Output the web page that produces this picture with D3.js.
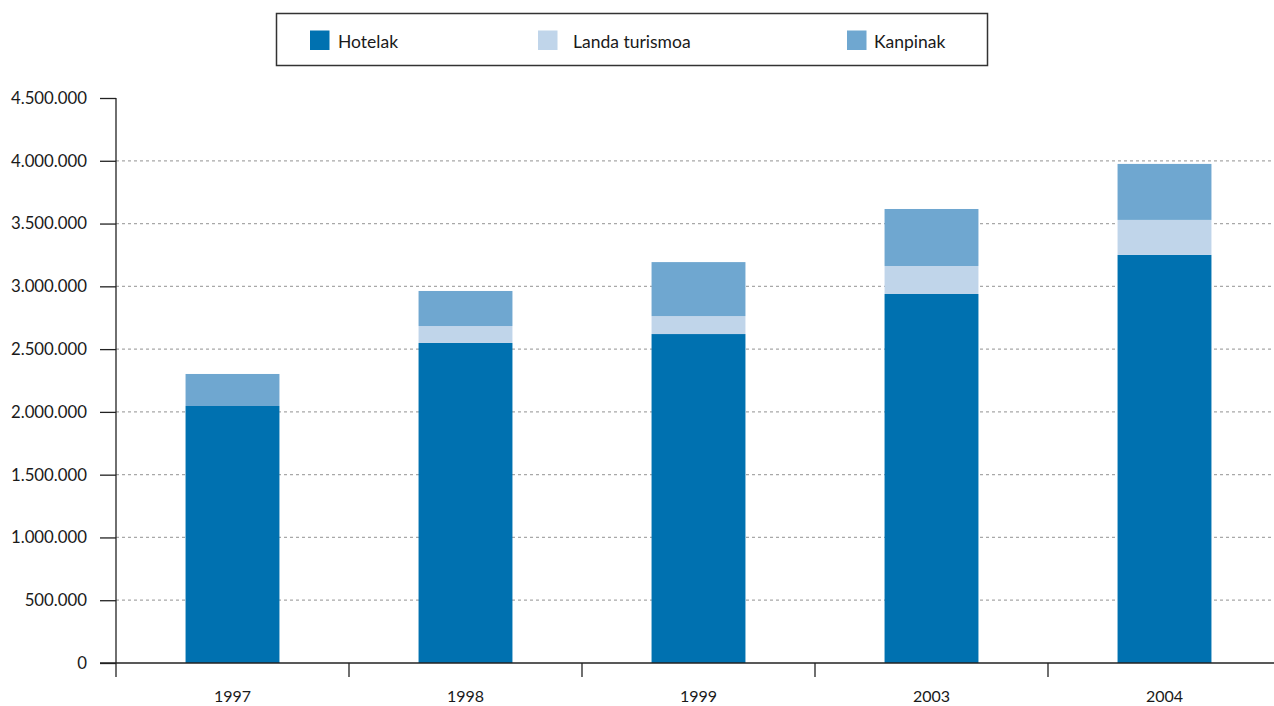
<!DOCTYPE html>
<html><head><meta charset="utf-8">
<script src="https://cdn.jsdelivr.net/npm/d3@7"></script>
<style>body{margin:0;background:#fff;} svg{display:block;} text{font-family:Lato, "Open Sans", sans-serif;fill:#1a1a1a;}</style>
</head><body>
<svg id="c" width="1274" height="706"></svg>
<script>
const years = ["1997","1998","1999","2003","2004"];
const hotelak = [2047000, 2549000, 2620000, 2939000, 3250000];
const landa = [0, 135000, 143000, 223000, 279000];
const kanpinak = [255000, 279000, 430000, 454000, 446000];
const seriesNames = ["Hotelak","Landa turismoa","Kanpinak"];
const colors = ["#0071b0","#c0d5ea","#6fa7d0"];
const yTicks = [0,500000,1000000,1500000,2000000,2500000,3000000,3500000,4000000,4500000];

const svg = d3.select("#c");
const x0 = 116, y0 = 663, yTop = 98;
const x = d3.scaleBand().domain(years).range([x0, x0 + 233*5]).paddingInner(0.597).paddingOuter(0.2985);
const y = d3.scaleLinear().domain([0,4500000]).range([y0, yTop]);
const fmt = v => d3.format(",")(v).replace(/,/g,".");

// gridlines
svg.append("g").selectAll("line").data(yTicks.filter(v=>v>0 && v<4500000)).join("line")
  .attr("x1", x0).attr("x2", 1274).attr("y1", d=>y(d)).attr("y2", d=>y(d))
  .attr("stroke","#a8a8a8").attr("stroke-width",1.2).attr("stroke-dasharray","3,3");

// stacked bars
const table = years.map((yr,i)=>({year:yr, Hotelak:hotelak[i], "Landa turismoa":landa[i], Kanpinak:kanpinak[i]}));
const stack = d3.stack().keys(seriesNames)(table);
svg.append("g").selectAll("g").data(stack).join("g").attr("fill",(d,i)=>colors[i])
  .selectAll("rect").data(d=>d).join("rect")
  .attr("x", d=>x(d.data.year)).attr("width", x.bandwidth())
  .attr("y", d=>y(d[1])).attr("height", d=>y(d[0])-y(d[1]));

// y axis
const yAxis = d3.axisLeft(y).tickValues(yTicks).tickFormat(v=>fmt(v)).tickSize(16).tickPadding(13);
const gy = svg.append("g").attr("transform",`translate(${x0},0)`).call(yAxis);
gy.select(".domain").remove();
gy.selectAll(".tick line").attr("stroke","#222").attr("stroke-width",1.3);
gy.selectAll(".tick text").style("font-size","16.8px").style("font-family","Lato, sans-serif").attr("fill","#1a1a1a");
svg.append("line").attr("x1",x0).attr("x2",x0).attr("y1",yTop).attr("y2",677).attr("stroke","#222").attr("stroke-width",1.3);

// x axis
svg.append("line").attr("x1",100).attr("x2",1274).attr("y1",y0).attr("y2",y0).attr("stroke","#222").attr("stroke-width",1.3);
const bounds = years.map((d,i)=>x0 + 233*i).slice(1);
svg.append("g").selectAll("line").data(bounds).join("line")
  .attr("x1",d=>d).attr("x2",d=>d).attr("y1",y0).attr("y2",677).attr("stroke","#222").attr("stroke-width",1.3);
svg.append("g").selectAll("text").data(years).join("text")
  .attr("x", d=>x(d)+x.bandwidth()/2).attr("y", 702).attr("text-anchor","middle")
  .style("font-size","16px").text(d=>d);

// legend
svg.append("rect").attr("x",276.5).attr("y",13.5).attr("width",711).attr("height",52)
  .attr("fill","none").attr("stroke","#333").attr("stroke-width",1.5);
const legX = [310, 538, 847];
const legT = [28, 35, 27];
const lg = svg.append("g").selectAll("g").data(seriesNames).join("g")
  .attr("transform",(d,i)=>`translate(${legX[i]},30.5)`);
lg.append("rect").attr("width",19.5).attr("height",19.5).attr("fill",(d,i)=>colors[i]);
lg.append("text").attr("x",(d,i)=>legT[i]).attr("y",17).style("font-size","17.5px").text(d=>d);
</script>
</body></html>
